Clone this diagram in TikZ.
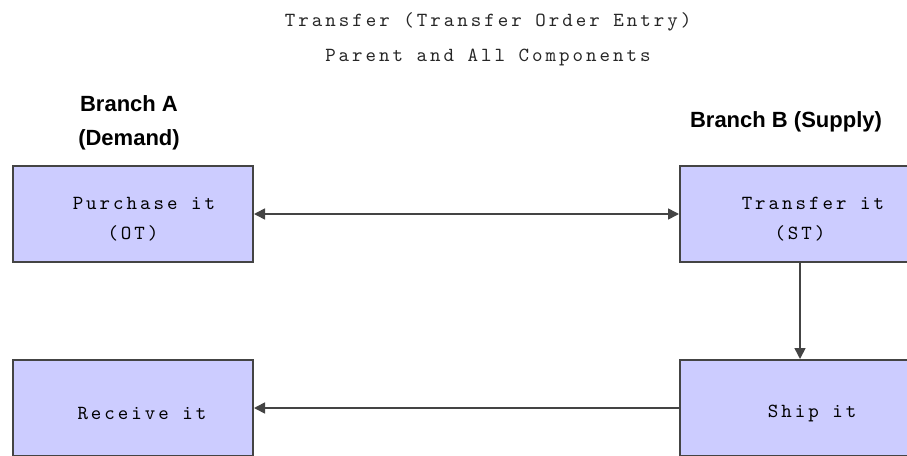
\documentclass[tikz,border=0pt]{standalone}
\usepackage{fontspec}
\setmainfont{Liberation Sans}
\newfontfamily\monofont[LetterSpace=15]{lmmono10-regular.otf}
\usetikzlibrary{arrows.meta}
\definecolor{boxfill}{HTML}{CCCCFF}
\definecolor{edgecol}{HTML}{444444}
\begin{document}
\begin{tikzpicture}[x=1pt,y=-1pt,
  >={Triangle[length=11pt,width=11pt]},
  box/.style={draw=edgecol, line width=2pt, fill=boxfill, minimum width=240pt,
    minimum height=96pt, inner sep=0pt},
  boxtext/.style={align=center, text=black, inner sep=0pt,
    font=\monofont\fontsize{20}{30}\selectfont},
  conn/.style={draw=edgecol, line width=1.6pt},
  hdr/.style={font=\bfseries\fontsize{22}{34}\selectfont, align=center, inner sep=0pt},
  ttl/.style={font=\monofont\fontsize{20}{35}\selectfont, text=black!85, align=center, inner sep=0pt}]
\useasboundingbox (0,0) rectangle (907,455);
\node[ttl] (title) at (488,39) {Transfer (Transfer Order Entry)\\Parent and All Components};
\node[hdr] (ha) at (129,123) {Branch A\\(Demand)};
\node[hdr] (hb) at (786,122) {Branch B (Supply)};
\node[box] (a1) at (133,214) {};
\node[box] (b1) at (800,214) {};
\node[box] (a2) at (133,408) {};
\node[box] (b2) at (800,408) {};
\node[boxtext] (a1t) at (133,219) {\hspace*{22pt}Purchase it\\(OT)};
\node[boxtext] (b1t) at (800,219) {\hspace*{26pt}Transfer it\\(ST)};
\node[boxtext] (a2t) at (133,413) {\hspace*{18pt}Receive it};
\node[boxtext] (b2t) at (800,413) {\hspace*{24pt}Ship it};
\draw[conn,<->] (a1) -- (b1);
\draw[conn,->] (b1) -- (b2);
\draw[conn,->] (b2) -- (a2);
\end{tikzpicture}
\end{document}
